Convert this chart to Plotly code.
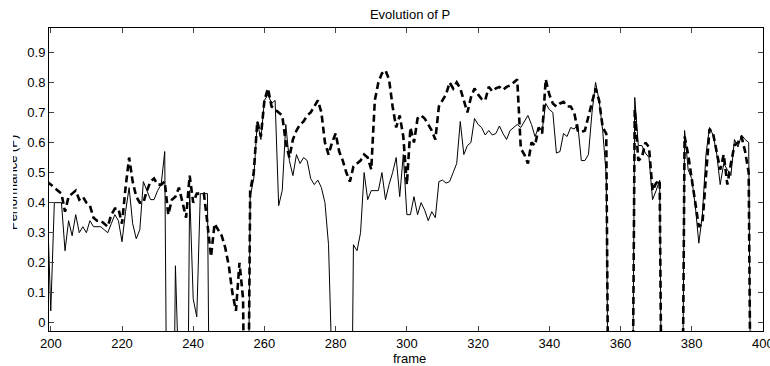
import plotly.graph_objects as go

frames = list(range(199, 398))

solid = [
    0.40,
    0.04, 0.40, 0.40, 0.40, 0.24, 0.34, 0.29, 0.36, 0.30, 0.32,   # 200-209
    0.30, 0.34, 0.32, 0.32, 0.32, 0.31, 0.30, 0.33, 0.36, 0.34,   # 210-219
    0.27, 0.37, 0.45, 0.33, 0.28, 0.31, 0.47, 0.44, 0.41, 0.41,   # 220-229
    0.44, 0.46, 0.57, -1.0, -1.0, 0.19, -1.0, -1.0, -1.0, 0.44,   # 230-239
    0.08, 0.02, 0.43, 0.43, 0.43, -1.0, -1.0, -1.0, -1.0, -1.0,   # 240-249
    -1.0, -1.0, -1.0, -1.0, -1.0, -1.0, 0.42, 0.48, 0.67, 0.61,   # 250-259
    0.74, 0.76, 0.73, 0.74, 0.39, 0.44, 0.66, 0.54, 0.49, 0.56,   # 260-269
    0.53, 0.55, 0.54, 0.48, 0.46, 0.475, 0.45, 0.40, 0.26, -1.0,  # 270-279
    -1.0, -1.0, -1.0, -1.0, -1.0, 0.26, 0.24, 0.30, 0.50, 0.41,   # 280-289
    0.44, 0.44, 0.44, 0.50, 0.41, 0.46, 0.50, 0.55, 0.42, 0.56,   # 290-299
    0.36, 0.36, 0.42, 0.36, 0.40, 0.375, 0.34, 0.37, 0.35, 0.47,  # 300-309
    0.475, 0.465, 0.47, 0.50, 0.53, 0.67, 0.56, 0.59, 0.60, 0.68, # 310-319
    0.66, 0.65, 0.625, 0.64, 0.625, 0.63, 0.655, 0.63, 0.61, 0.64,# 320-329
    0.65, 0.66, 0.65, 0.67, 0.69, 0.66, 0.62, 0.65, 0.64, 0.73,   # 330-339
    0.71, 0.70, 0.565, 0.57, 0.63, 0.62, 0.65, 0.645, 0.66, 0.54, # 340-349
    0.54, 0.56, 0.70, 0.80, 0.74, 0.64, 0.49, -1.0, -1.0, -1.0,   # 350-359
    -1.0, -1.0, -1.0, -1.0, 0.75, 0.59, 0.59, 0.565, 0.55, 0.41,  # 360-369
    0.44, 0.475, -1.0, -1.0, -1.0, -1.0, -1.0, -1.0, 0.64, 0.51,  # 370-379
    0.48, 0.39, 0.265, 0.36, 0.56, 0.65, 0.625, 0.565, 0.46, 0.53,# 380-389
    0.51, 0.49, 0.61, 0.585, 0.625, 0.61, 0.60, -1.0,             # 390-397
]

dashed = [
    0.47,
    0.46, 0.45, 0.44, 0.43, 0.37, 0.42, 0.43, 0.44, 0.41, 0.42,   # 200-209
    0.40, 0.39, 0.35, 0.34, 0.34, 0.33, 0.32, 0.36, 0.38, 0.38,   # 210-219
    0.33, 0.45, 0.55, 0.47, 0.42, 0.40, 0.40, 0.44, 0.47, 0.48,   # 220-229
    0.46, 0.46, 0.47, 0.36, 0.41, 0.42, 0.45, 0.40, 0.35, 0.49,   # 230-239
    0.40, 0.43, 0.43, 0.43, 0.33, 0.22, 0.33, 0.31, 0.29, 0.25,   # 240-249
    0.19, 0.10, 0.04, 0.20, 0.08, -1.0, 0.44, 0.50, 0.67, 0.62,   # 250-259
    0.74, 0.78, 0.72, 0.71, 0.70, 0.69, 0.60, 0.55, 0.61, 0.64,   # 260-269
    0.66, 0.67, 0.69, 0.70, 0.72, 0.74, 0.70, 0.60, 0.56, 0.60,   # 270-279
    0.63, 0.57, 0.54, 0.50, 0.47, 0.52, 0.53, 0.54, 0.56, 0.55,   # 280-289
    0.51, 0.74, 0.80, 0.83, 0.84, 0.81, 0.72, 0.65, 0.69, 0.62,   # 290-299
    0.46, 0.65, 0.60, 0.68, 0.69, 0.68, 0.66, 0.64, 0.61, 0.72,   # 300-309
    0.74, 0.76, 0.80, 0.78, 0.80, 0.78, 0.74, 0.70, 0.75, 0.78,   # 310-319
    0.76, 0.745, 0.74, 0.785, 0.77, 0.78, 0.785, 0.775, 0.785, 0.79, # 320-329
    0.80, 0.81, 0.58, 0.56, 0.53, 0.60, 0.59, 0.65, 0.63, 0.81,   # 330-339
    0.76, 0.73, 0.72, 0.73, 0.735, 0.72, 0.72, 0.70, 0.64, 0.635, # 340-349
    0.64, 0.685, 0.73, 0.78, 0.74, 0.65, 0.63, -1.0, -1.0, -1.0,  # 350-359
    -1.0, -1.0, -1.0, -1.0, 0.71, 0.54, 0.55, 0.60, 0.585, 0.44,  # 360-369
    0.465, 0.475, -1.0, -1.0, -1.0, -1.0, -1.0, -1.0, 0.62, 0.56, # 370-379
    0.48, 0.40, 0.32, 0.33, 0.50, 0.645, 0.63, 0.565, 0.51, 0.56, # 380-389
    0.46, 0.53, 0.59, 0.60, 0.62, 0.57, 0.50, -1.0,               # 390-397
]

x_ticks = list(range(200, 401, 20))
y_ticks = [0, 0.1, 0.2, 0.3, 0.4, 0.5, 0.6, 0.7, 0.8, 0.9]
y_ticklabels = ["0", "0.1", "0.2", "0.3", "0.4", "0.5", "0.6", "0.7", "0.8", "0.9"]

FONT = "Liberation Sans, Arial, Helvetica, sans-serif"

fig = go.Figure()
fig.add_trace(go.Scatter(x=frames, y=solid, mode="lines",
                         line=dict(color="black", width=1), showlegend=False))
fig.add_trace(go.Scatter(x=frames, y=dashed, mode="lines",
                         line=dict(color="black", width=2.6, dash="7px,4px"),
                         showlegend=False))

W, H = 770, 366
L, R, T, B = 49, 7, 28, 35
pw = W - L - R
ph = H - T - B

fig.update_layout(
    width=W, height=H,
    margin=dict(l=L, r=R, t=T, b=B, pad=0, autoexpand=False),
    paper_bgcolor="white", plot_bgcolor="white",
    font=dict(family=FONT, size=13, color="black"),
    title=dict(text="Evolution of P", x=(410 - L) / pw, xref="paper", xanchor="center",
               y=1 - 14 / H, yanchor="middle", font=dict(size=13, color="black")),
    xaxis=dict(range=[199.5, 400.02], tickvals=x_ticks, ticks="inside", ticklen=5,
               showline=True, linecolor="black", linewidth=1, mirror="ticks",
               showgrid=False, zeroline=False, tickfont=dict(size=13),
               ticklabelstandoff=0, ticklabeloverflow="allow", automargin=False),
    yaxis=dict(range=[-0.027, 0.981], tickvals=y_ticks, ticktext=y_ticklabels,
               ticks="inside", ticklen=5, automargin=False,
               showline=True, linecolor="black", linewidth=1, mirror="ticks",
               showgrid=False, zeroline=False, tickfont=dict(size=13)),
)

# x-axis title
fig.add_annotation(text="frame", showarrow=False, xref="paper", yref="paper",
                   x=(409 - L) / pw, y=-(358 - (H - B)) / ph,
                   xanchor="center", yanchor="middle", font=dict(size=13, color="black"))

# partially cut-off y-axis label, as in the reference
fig.add_annotation(text="Performance (P)", textangle=-90, showarrow=False,
                   xref="paper", yref="paper", x=(12.5 - L) / pw, y=0.49,
                   xanchor="center", yanchor="middle", font=dict(size=13, color="black"))
fig.add_annotation(text=" ", showarrow=False, xref="paper", yref="paper",
                   x=(0 - L) / pw, y=0.49, xanchor="left", yanchor="middle",
                   width=13, height=200, bgcolor="white", borderpad=0, borderwidth=0)

fig.write_html("out.html")
